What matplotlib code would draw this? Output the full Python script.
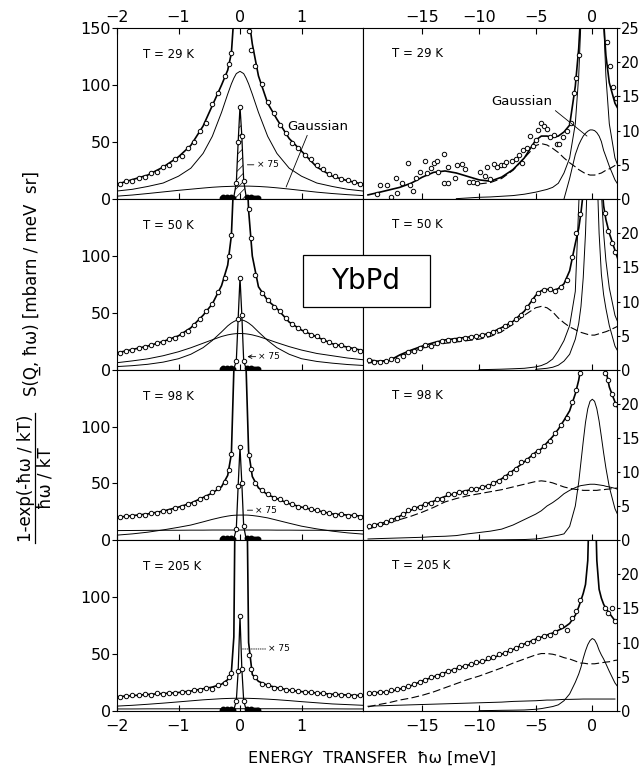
import numpy as np
import matplotlib.pyplot as plt
from matplotlib.patches import Rectangle
from matplotlib.lines import Line2D

nan = np.nan

# ---------- left column: |E| < 2 meV, 0-150 ----------
e_left = [-2.0, -1.75, -1.5, -1.25, -1.0, -0.8, -0.6, -0.45, -0.3, -0.2, -0.14, -0.1, -0.06, 0.0,
          0.06, 0.1, 0.14, 0.2, 0.3, 0.45, 0.6, 0.8, 1.0, 1.25, 1.5, 1.75, 2.0]

tot_l29 = [13, 17, 21, 28, 37, 47, 64, 82, 100, 113, 128, 160, 300, 400,
           300, 200, 160, 136, 108, 84, 70, 53, 42, 28, 20, 16, 13]
lor_l29 = [7, 8.5, 11, 14, 20, 27, 40, 55, 76, 92, 101, 106, 110, 112,
           110, 106, 101, 92, 76, 55, 40, 27, 20, 14, 11, 8.5, 7]
gau_l29 = [2.5, 3.5, 4.8, 6.2, 7.6, 8.6, 9.6, 10.3, 10.8, 11.0, 11.1, 11.2, 11.2, 11.3,
           11.3, 11.3, 11.3, 11.2, 11.0, 10.5, 9.8, 8.7, 7.5, 6.0, 4.8, 3.8, 3.0]

tot_l50 = [15, 18, 21, 25, 30, 37, 48, 58, 74, 92, 118, 170, 300, 400,
           300, 190, 140, 100, 73, 61, 54, 42, 35, 29, 23, 20, 17]
nar_l50 = [3.0, 3.8, 5.0, 6.9, 9.9, 13.8, 19.6, 25.9, 33.4, 38.7, 41.2, 42.5, 43.5, 44,
           43.5, 42.5, 41.2, 38.7, 33.4, 25.9, 19.6, 13.8, 9.9, 7.5, 6.0, 4.8, 4.0]
bro_l50 = [6.4, 8.0, 9.8, 12.5, 16.0, 19.5, 23.5, 26.5, 29.4, 30.8, 31.4, 31.7, 31.9, 32,
           31.9, 31.7, 31.4, 30.8, 29.4, 26.8, 24, 20.5, 17.5, 14.5, 12.5, 10.5, 9.0]

tot_l98 = [20, 21.5, 23, 25.5, 29, 32.5, 37.5, 41.5, 47, 57, 76, 150, 300, 400,
           300, 150, 78, 56, 46, 40, 36.5, 32, 29, 26, 23, 22, 21]
bro_l98 = [4.3, 5.4, 6.9, 8.9, 11.2, 13.2, 16.0, 18.2, 20.1, 21.1, 21.6, 21.8, 21.9, 22.0,
           22.0, 22.0, 21.9, 21.6, 20.9, 19.5, 17.5, 14.8, 12.2, 9.8, 7.8, 6.3, 5.2]
flat_l98 = [8.3, 8.4, 8.5, 8.6, 8.6, 8.7, 8.7, 8.8, 8.8, 8.8, 8.8, 8.8, 8.8, 8.8,
            8.8, 8.8, 8.8, 8.8, 8.8, 8.8, 8.7, 8.7, 8.6, 8.6, 8.5, 8.4, 8.3]

tot_l205 = [12.5, 13.5, 14.5, 15.3, 16.2, 17.5, 19.5, 21, 23.5, 27.5, 34, 65, 300, 400,
            300, 250, 60, 32, 26, 22.5, 20.5, 18.3, 17, 15.8, 14.7, 14, 13.5]
bro_l205 = [4.3, 5.0, 5.9, 6.9, 8.0, 8.9, 9.8, 10.3, 10.8, 11.0, 11.1, 11.15, 11.2, 11.2,
            11.2, 11.15, 11.1, 11.0, 10.8, 10.4, 9.9, 9.1, 8.2, 7.2, 6.2, 5.6, 5.0]
flat_l205 = [1.8, 1.8, 1.9, 1.9, 1.9, 2.0, 2.0, 2.0, 2.0, 2.0, 2.0, 2.0, 2.0, 2.0,
             2.0, 2.0, 2.0, 2.0, 2.0, 2.0, 2.0, 2.0, 1.9, 1.9, 1.9, 1.8, 1.8]

e_left_pts = [-1.95, -1.85, -1.75, -1.65, -1.55, -1.45, -1.35, -1.25, -1.15, -1.05,
              -0.95, -0.85, -0.75, -0.65, -0.55, -0.45, -0.35, -0.25, -0.18, -0.14,
              0.14, 0.18, 0.25, 0.35, 0.45, 0.55, 0.65, 0.75, 0.85, 0.95,
              1.05, 1.15, 1.25, 1.35, 1.45, 1.55, 1.65, 1.75, 1.85, 1.95]
pts_l29 = [13, 15.5, 16, 18.5, 19.5, 22.5, 24, 28.5, 30, 35.5, 38, 45, 50, 60, 67, 83, 93, 108, 118, 128,
           147, 131, 117, 101, 85, 75, 65, 58, 49, 45, 39, 35.5, 30, 26.5, 22, 20.5, 17.5, 16.5, 14.5, 13.5]
pts_l50 = [15, 17, 17.5, 19.5, 20, 22, 23.5, 24.5, 27.5, 28.5, 31.5, 34.5, 39.5, 44.5, 51.5, 57.5, 68.5, 81, 100, 118,
           141, 116, 83, 67.5, 61.5, 55, 51.5, 45.5, 40.5, 36.5, 34.5, 31, 29.5, 26, 24.5, 22, 21.5, 19.5, 18.5, 17]
pts_l98 = [20, 21.5, 21, 22.5, 22.5, 24, 24, 26, 26, 28.5, 29, 32, 33, 36.5, 38, 42, 45.5, 51, 62, 76,
           75, 63, 50, 44.5, 40.5, 37, 36, 33.5, 31.5, 29.5, 29, 27, 26.5, 24.5, 24, 22.5, 23, 21.5, 22, 20.5]
pts_l205 = [12.5, 12.8, 14, 13.6, 14.8, 14.2, 15.4, 15, 16.2, 15.6, 16.8, 16.6, 18.4, 18.6, 20.6, 19.6, 22.8, 25, 30, 33.5,
            49, 37, 29.5, 24, 23, 20.5, 20.5, 18.6, 18.4, 17.8, 16.4, 16.8, 15.4, 16, 14.4, 14.8, 13.8, 14.4, 13.2, 13.8]

# elastic line scaled by 1/75 and its baseline points
e_x75 = [-0.1, -0.06, -0.03, 0.0, 0.03, 0.06, 0.1]
x75_29 = [2, 14, 50, 81, 55, 16, 2]
x75_50 = [1, 8, 45, 81, 48, 8, 1]
x75_98 = [1, 10, 48, 82, 50, 12, 1]
x75_205 = [1, 9, 35, 83, 37, 9, 1]
e_band = [-0.3, -0.27, -0.24, -0.21, -0.18, -0.15, -0.12, 0.12, 0.15, 0.18, 0.21, 0.24, 0.27, 0.3]
s_band = [1.2, 1.5, 1.0, 1.4, 1.2, 1.6, 1.3, 1.5, 1.1, 1.4, 1.0, 1.3, 1.2, 1.1]

# ---------- right column: -20 .. 2 meV, 0-25 ----------
e_right = [-19.8, -19, -18, -17, -16, -15, -14, -13, -12, -11, -10, -9, -8, -7, -6, -5, -4.5, -4, -3.5, -3,
           -2.5, -2, -1.5, -1.2, -1.0, -0.8, -0.6, -0.4, -0.2, 0, 0.2, 0.4, 0.6, 0.8, 1.0, 1.2, 1.5, 2.0, 2.5]

tot_r29 = [0.6, 0.9, 1.3, 1.7, 2.3, 3.2, 3.9, 4.1, 3.8, 3.3, 2.8, 2.6, 3.2, 4.3, 6.0, 8.6, 9.2, 9.2, 9.0, 9.2,
           9.8, 10.8, 16.5, 22, 28, 40, 60, 90, 130, 200, 130, 90, 60, 40, 26, 21, 17, 14, 12.5]
dash_r29 = [nan, nan, nan, nan, nan, nan, nan, nan, nan, nan, 2.2, 2.4, 3.0, 4.2, 6.0, 7.8, 8.1, 7.9, 7.4, 6.8,
            6.0, 5.3, 4.7, 4.3, 4.1, 3.9, 3.7, 3.6, 3.5, 3.5, 3.5, 3.6, 3.7, 3.8, 4.0, 4.2, 4.4, 4.9, 5.3]
lor_r29 = [nan, nan, nan, nan, nan, nan, nan, nan, 0.05, 0.15, 0.25, 0.3, 0.4, 0.5, 0.7, 1.0, 1.2, 1.4, 1.7, 2.3,
           3.8, 6.0, 11, 18, 26, 40, 60, 85, 105, 112, 105, 85, 60, 40, 26, 18, 11, 6.0, 3.8]
gau_r29 = [nan, nan, nan, nan, nan, nan, nan, nan, nan, nan, nan, nan, nan, nan, nan, nan, nan, nan, nan, nan,
           0.0, 3.0, 6.5, 7.9, 8.6, 9.2, 9.6, 9.9, 10.1, 10.1, 10.0, 9.7, 9.2, 8.4, 7.1, 6.2, 4.8, 2.8, 1.5]

tot_r50 = [1.5, 1.3, 1.3, 2.2, 2.9, 3.5, 4.0, 4.4, 4.6, 4.8, 5.0, 5.4, 6.2, 7.1, 8.6, 10.9, 11.6, 11.8, 11.6, 11.9,
           12.6, 14.5, 18.5, 20.7, 23, 26, 35, 50, 80, 150, 80, 50, 35, 28, 24, 22, 20, 17.5, 15]
dash_r50 = [1.0, 1.2, 1.5, 2.0, 2.6, 3.2, 3.6, 3.9, 4.1, 4.3, 4.5, 4.9, 5.6, 6.7, 8.0, 9.1, 9.3, 9.1, 8.5, 7.6,
            6.9, 6.3, 5.9, 5.6, 5.5, 5.4, 5.3, 5.2, 5.1, 5.1, 5.1, 5.2, 5.3, 5.4, 5.5, 5.6, 5.8, 6.2, 6.6]
bro_r50 = [nan, nan, nan, nan, nan, nan, nan, nan, nan, nan, 0.05, 0.08, 0.12, 0.18, 0.25, 0.45, 0.65, 1.0, 1.6, 2.8,
           4.3, 6.5, 11.5, 24, 32, 32, 32, 32, 32, 32, 32, 32, 32, 26, 20, 16, 12, 8, 6]
nar_r50 = [nan, nan, nan, nan, nan, nan, nan, nan, nan, nan, nan, nan, nan, nan, nan, 0.1, 0.17, 0.25, 0.4, 0.7,
           1.3, 2.3, 4.5, 6.8, 9.3, 13.5, 20, 30, 40, 44, 40, 30, 20, 14, 11, 9, 6.5, 3.5, 2]

tot_r98 = [1.9, 2.3, 2.7, 3.5, 4.4, 5.1, 5.7, 6.4, 6.9, 7.3, 7.6, 8.1, 9.0, 10.2, 11.5, 12.9, 13.4, 14.3, 15.2, 16.3,
           17.6, 19.0, 21.5, 23.5, 25.5, 29, 35, 45, 70, 120, 70, 45, 35, 30, 27, 25, 22.5, 20.3, 18.5]
dash_r98 = [1.6, 2.0, 2.5, 3.0, 3.5, 4.1, 4.8, 5.6, 6.1, 6.5, 6.8, 7.1, 7.4, 7.8, 8.2, 8.6, 8.7, 8.6, 8.4, 8.1,
            7.8, 7.6, 7.45, 7.4, 7.35, 7.3, 7.3, 7.3, 7.3, 7.3, 7.3, 7.3, 7.35, 7.4, 7.4, 7.45, 7.5, 7.6, 7.7]
bro_r98 = [0.15, 0.2, 0.25, 0.3, 0.35, 0.4, 0.5, 0.55, 0.65, 0.9, 1.1, 1.3, 1.6, 2.2, 3.0, 3.8, 4.3, 5.0, 5.5, 6.1,
           6.8, 7.3, 7.7, 7.9, 8.0, 8.05, 8.1, 8.15, 8.2, 8.2, 8.2, 8.15, 8.1, 8.05, 8.0, 7.9, 7.8, 7.6, 7.3]
nar_r98 = [nan, nan, nan, nan, nan, nan, nan, nan, nan, nan, 0.0, 0.02, 0.03, 0.05, 0.07, 0.15, 0.25, 0.4, 0.55, 0.7,
           0.9, 2.0, 5.0, 8.5, 11.5, 14.5, 17.3, 19.3, 20.4, 20.7, 20.4, 19.3, 17.5, 15.2, 12.8, 10.6, 7.8, 4.6, 2.8]

tot_r205 = [2.5, 2.7, 2.8, 3.2, 3.7, 4.4, 5.0, 5.6, 6.2, 6.7, 7.1, 7.6, 8.3, 9.0, 9.8, 10.5, 10.8, 11.1, 11.4, 11.8,
            12.2, 12.8, 14.0, 15.2, 16.2, 17.2, 18.5, 22, 35, 70, 35, 22, 17.8, 16.5, 15.6, 15.0, 14.3, 13.2, 12.5]
dash_r205 = [0.6, 0.9, 1.2, 1.6, 1.9, 2.3, 2.8, 3.4, 4.0, 4.6, 5.1, 5.7, 6.3, 7.0, 7.6, 8.2, 8.4, 8.4, 8.3, 8.1,
             7.8, 7.6, 7.3, 7.1, 7.0, 7.0, 6.95, 6.9, 6.9, 6.9, 6.9, 6.95, 7.0, 7.05, 7.1, 7.15, 7.2, 7.4, 7.5]
flat_r205 = [0.7, 0.75, 0.8, 0.85, 0.9, 0.95, 1.0, 1.05, 1.1, 1.15, 1.2, 1.25, 1.3, 1.4, 1.45, 1.5, 1.55, 1.6, 1.6, 1.65,
             1.7, 1.7, 1.72, 1.73, 1.74, 1.75, 1.75, 1.75, 1.75, 1.75, 1.75, 1.75, 1.75, 1.75, 1.75, 1.75, 1.75, 1.75, nan]
nar_r205 = [nan, nan, nan, nan, nan, nan, nan, nan, nan, nan, 0.05, 0.07, 0.1, 0.12, 0.15, 0.25, 0.35, 0.5, 0.65, 0.9,
            1.5, 2.5, 4.2, 5.4, 6.4, 7.7, 8.8, 9.7, 10.3, 10.6, 10.4, 9.8, 8.9, 8.2, 7.6, 6.9, 5.8, 4.1, 3.0]

e_r29_pts = [-19.0, -18.7, -18.1, -17.8, -17.3, -17.2, -16.8, -16.3, -16.1, -15.8, -15.6, -15.2, -14.8, -14.6,
             -14.2, -14.0, -13.7, -13.6, -13.1, -13.1, -12.7, -12.7, -12.1, -11.9, -11.5, -11.2, -10.9, -10.5,
             -10.2, -9.9, -9.5, -9.3, -9.0, -8.7, -8.4, -8.1, -7.8, -7.6, -7.1, -6.7, -6.5, -6.2, -6.1, -5.8,
             -5.5, -5.2, -5.0, -4.8, -4.5, -4.3, -4.0, -3.7, -3.4, -3.1, -2.9, -2.6, -2.2, -1.9, -1.6, -1.4,
             -1.2, 1.3, 1.6, 1.8, 2.1]
pts_r29 = [0.7, 2.1, 2.1, 0.3, 3.1, 0.9, 2.4, 5.2, 2.1, 1.2, 3.1, 3.9, 5.6, 3.8,
           4.5, 5.2, 5.5, 3.9, 6.6, 2.4, 2.4, 4.7, 3.0, 4.9, 5.1, 4.4, 2.5, 2.5,
           2.4, 4.0, 3.4, 4.7, 2.9, 5.1, 4.7, 4.9, 4.9, 5.4, 5.5, 5.8, 6.4, 5.2, 7.2, 7.4,
           9.2, 7.7, 8.6, 10.1, 11.1, 10.7, 10.3, 9.1, 9.4, 8.1, 8.1, 9.1, 9.9, 11.1, 15.5, 17.7,
           21.0, 23.0, 19.4, 16.4, 14.7]

e_right_pts = [-19.75, -19.25, -18.75, -18.25, -17.75, -17.25, -16.75, -16.25, -15.75, -15.25,
               -14.75, -14.25, -13.75, -13.25, -12.75, -12.25, -11.75, -11.25, -10.75, -10.25,
               -9.75, -9.25, -8.75, -8.25, -7.75, -7.25, -6.75, -6.25, -5.75, -5.25,
               -4.75, -4.25, -3.75, -3.25, -2.75, -2.25, -1.75, -1.4, -1.1, 1.1, 1.4, 1.7, 2.0]
pts_r50 = [1.5, 1.2, 1.1, 1.3, 1.6, 1.5, 2.0, 2.6, 2.8, 3.2, 3.6, 3.5, 4.0, 4.2, 4.4, 4.4, 4.6, 4.7, 4.8, 4.9,
           5.1, 5.2, 5.5, 5.9, 6.4, 6.8, 7.4, 8.1, 9.2, 10.2, 11.3, 11.7, 11.8, 11.5, 12.2, 13.2, 16.5,
           20.0, 22.8, 23.0, 20.3, 18.6, 17.3]
pts_r98 = [2.0, 2.2, 2.4, 2.6, 2.9, 3.3, 3.8, 4.4, 4.7, 4.9, 5.3, 5.5, 6.0, 6.1, 6.7, 6.8, 7.1, 7.1, 7.5, 7.5,
           7.8, 7.9, 8.4, 8.7, 9.3, 9.8, 10.5, 11.4, 11.8, 12.5, 13.1, 13.8, 14.6, 15.8, 16.9, 18.0, 20.3,
           22.0, 24.5, 24.6, 23.5, 21.5, 20.0]
pts_r205 = [2.6, 2.7, 2.8, 2.8, 3.0, 3.2, 3.4, 3.7, 4.0, 4.2, 4.5, 4.9, 5.1, 5.4, 5.8, 6.0, 6.4, 6.6, 6.9, 7.1,
            7.3, 7.7, 7.9, 8.3, 8.5, 8.9, 9.2, 9.6, 9.9, 10.2, 10.7, 11.0, 11.1, 11.5, 12.4, 11.8, 13.6,
            14.6, 16.2, 15.0, 14.4, 15.0, 13.2]

temps = ['T = 29 K', 'T = 50 K', 'T = 98 K', 'T = 205 K']

plt.rcParams['font.family'] = 'DejaVu Sans'
plt.rcParams['hatch.linewidth'] = 0.5

W, H = 643, 769
fig = plt.figure(figsize=(W / 100, H / 100), dpi=100)


def rect(x0, y0, x1, y1):
    return [x0 / W, 1 - y1 / H, (x1 - x0) / W, (y1 - y0) / H]


rows = [28, 199, 370, 540, 711]
thin = dict(color='k', lw=0.7)
thick = dict(color='k', lw=1.2)
mk = dict(ls='none', marker='o', ms=3.2, mfc='white', mec='k', mew=0.7)

left_tot = [tot_l29, tot_l50, tot_l98, tot_l205]
left_comp = [[lor_l29, gau_l29], [nar_l50, bro_l50], [bro_l98, flat_l98], [bro_l205, flat_l205]]
left_pts = [pts_l29, pts_l50, pts_l98, pts_l205]
left_x75 = [x75_29, x75_50, x75_98, x75_205]
x75_note = [(0.12, 30, 0.27, '-'), (0.12, 11.7, 0.3, '->'), (0.12, 26.3, 0.25, '-'), (0.04, 54.4, 0.46, ':')]

right_tot = [tot_r29, tot_r50, tot_r98, tot_r205]
right_dash = [dash_r29, dash_r50, dash_r98, dash_r205]
right_comp = [[lor_r29, gau_r29], [bro_r50, nar_r50], [bro_r98, nar_r98], [flat_r205, nar_r205]]
right_e_pts = [e_r29_pts, e_right_pts, e_right_pts, e_right_pts]
right_pts = [pts_r29, pts_r50, pts_r98, pts_r205]

for i in range(4):
    # ----- left panel -----
    ax = fig.add_axes(rect(117, rows[i], 363, rows[i + 1]))
    for c in left_comp[i]:
        ax.plot(e_left, c, **thin)
    ax.plot(e_left, left_tot[i], **thick)
    ax.plot(e_left_pts, left_pts[i], **mk)
    ax.plot(e_x75, left_x75[i], color='k', lw=0.9)
    ax.plot(e_x75[1:-1], left_x75[i][1:-1], **mk)
    ax.plot(e_band, s_band, ls='none', marker='o', ms=3.2, color='k')
    if i == 0:
        ax.fill_between(e_x75, 0, left_x75[i], facecolor='none', edgecolor='k', hatch='////', lw=0)
    xa, ya, xt, st = x75_note[i]
    ls = ':' if st == ':' else '-'
    arrow = '->' if st == '->' else '-'
    ax.annotate('× 75', xy=(xa, ya), xytext=(xt, ya), fontsize=6.5, va='center',
                arrowprops=dict(arrowstyle=arrow, lw=0.6, ls=ls, shrinkA=0, shrinkB=0))
    ax.text(-1.58, 127, temps[i], fontsize=8.5, va='center')
    ax.set_xlim(-2, 2)
    ax.set_ylim(0, 150)
    ax.set_xticks([-2, -1, 0, 1])
    ax.set_yticks([0, 50, 100, 150] if i == 0 else [0, 50, 100])
    ax.tick_params(axis='y', direction='out', length=3.5, labelsize=11.5, pad=1)
    ax.tick_params(axis='x', direction='in', length=4, labelsize=11.5, pad=6)
    if i == 0:
        ax.tick_params(axis='x', top=True, labeltop=True, labelbottom=False, pad=2)
        ax.annotate('Gaussian', xy=(0.75, 10.5), xytext=(1.27, 64), ha='center', va='center', fontsize=9.5,
                    arrowprops=dict(arrowstyle='-', lw=0.6, relpos=(0.34, 0), shrinkA=0, shrinkB=0))
    elif i < 3:
        ax.tick_params(axis='x', labelbottom=False)
    for s in ax.spines.values():
        s.set_linewidth(0.8)

    # ----- right panel -----
    ax = fig.add_axes(rect(363, rows[i], 617, rows[i + 1]))
    for c in right_comp[i]:
        ax.plot(e_right, c, **thin)
    ax.plot(e_right, right_dash[i], color='k', lw=0.8, dashes=(7, 3))
    ax.plot(e_right, right_tot[i], **thick)
    ax.plot(right_e_pts[i], right_pts[i], **mk)
    ax.text(-17.7, 21.3, temps[i], fontsize=8.5, va='center')
    ax.set_xlim(-20.24, 2.18)
    ax.set_ylim(0, 25)
    ax.yaxis.tick_right()
    ax.set_xticks([-15, -10, -5, 0])
    ax.set_yticks([0, 5, 10, 15, 20, 25] if i == 0 else [0, 5, 10, 15, 20])
    ax.tick_params(axis='y', direction='out', length=2.5, labelsize=10.5, pad=0.5)
    ax.tick_params(axis='x', direction='in', length=4, labelsize=11.5, pad=6)
    if i == 0:
        ax.tick_params(axis='x', top=True, labeltop=True, labelbottom=False, pad=2)
        ax.annotate('Gaussian', xy=(-0.47, 9.2), xytext=(-6.2, 14.2), ha='center', va='center', fontsize=9.5,
                    arrowprops=dict(arrowstyle='-', lw=0.6, relpos=(1, 0), shrinkA=0, shrinkB=0))
    elif i < 3:
        ax.tick_params(axis='x', labelbottom=False)
    for s in ax.spines.values():
        s.set_linewidth(0.8)

# axis titles
fig.text(32 / W, 1 - 283 / H, 'S(Q\u0332, ħω) [mbarn / meV  sr]', rotation=90,
         ha='center', va='center', fontsize=12)
fig.text(26 / W, 1 - 478 / H, '1-exp(-ħω / kT)', rotation=90, ha='center', va='center', fontsize=12)
fig.text(45 / W, 1 - 478 / H, 'ħω / kT', rotation=90, ha='center', va='center', fontsize=12)
fig.add_artist(Line2D([35 / W, 35 / W], [1 - 413 / H, 1 - 543 / H], transform=fig.transFigure, color='k', lw=0.9))
fig.text(372 / W, 1 - 758 / H, 'ENERGY  TRANSFER  ħω [meV]', ha='center', va='center', fontsize=11.5)

# sample box
fig.add_artist(Rectangle((303 / W, 1 - 307 / H), 127 / W, 52 / H, transform=fig.transFigure,
                         facecolor='white', edgecolor='k', lw=0.9, zorder=5))
fig.text(366 / W, 1 - 281 / H, 'YbPd', fontsize=20, ha='center', va='center', zorder=6)

fig.savefig('out.png', dpi=100)
